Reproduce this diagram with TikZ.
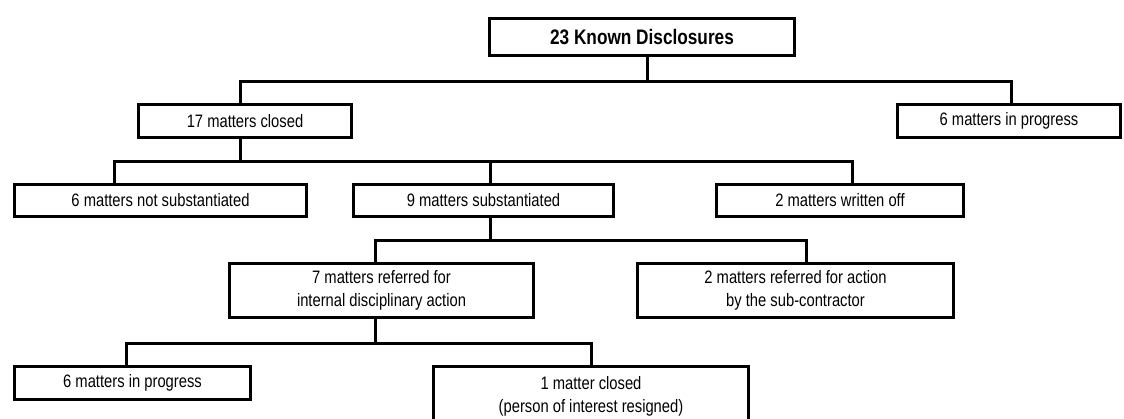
\documentclass[tikz,border=0pt]{standalone}
\usepackage{fontspec}
\setmainfont[FakeStretch=0.82]{Liberation Sans}
\usetikzlibrary{positioning}

\begin{document}
\begin{tikzpicture}[x=1pt,y=-1pt,line width=3pt]
  \useasboundingbox (0,0) rectangle (1124,418);
  \clip (0,0) rectangle (1124,418);
  \begin{scope}[every node/.style={draw,line width=3pt,inner sep=0pt,align=center,font=\fontsize{18}{23}\selectfont}]
    \node (known) [minimum width=305pt,minimum height=37pt,font=\bfseries\fontsize{21}{25}\selectfont] at (642, 37) {23 Known Disclosures};
    \node (closed) [minimum width=213pt,minimum height=33pt] at (245, 121) {17 matters closed};
    \node (progress) [minimum width=223pt,minimum height=33pt] at (1009, 121) {6 matters in progress};
    \node (notsub) [minimum width=292pt,minimum height=32pt] at (160.5, 200.5) {6 matters not substantiated};
    \node (subst) [minimum width=260pt,minimum height=32pt] at (483.5, 200.5) {9 matters substantiated};
    \node (written) [minimum width=247pt,minimum height=32pt] at (840, 200.5) {2 matters written off};
    \node (internal) [minimum width=304pt,minimum height=54pt] at (381.5, 290.5) {7 matters referred for\\ internal disciplinary action};
    \node (subcon) [minimum width=316pt,minimum height=54pt] at (795.5, 290.5) {2 matters referred for action\\ by the sub-contractor};
    \node (pending) [minimum width=236pt,minimum height=33pt] at (132.5, 383) {6 matters in progress};
    \node (resigned) [minimum width=315pt,minimum height=59pt] at (591, 396) {1 matter closed\\ (person of interest resigned)};
  \end{scope}
  \draw ([xshift=5pt]known.south) -- ++(0,24.5) -| ([xshift=-5pt]closed.north);
  \draw ([xshift=5pt]known.south) -- ++(0,24.5) -| ([xshift=2pt]progress.north);
  \draw ([xshift=-5pt]closed.south) -- ++(0,22.5) -| ([xshift=-46.5pt]notsub.north);
  \draw ([xshift=-5pt]closed.south) -- ++(0,22.5) -| ([xshift=6.5pt]subst.north);
  \draw ([xshift=-5pt]closed.south) -- ++(0,22.5) -| ([xshift=12pt]written.north);
  \draw ([xshift=6.5pt]subst.south) -- ++(0,22.5) -| ([xshift=-6.5pt]internal.north);
  \draw ([xshift=6.5pt]subst.south) -- ++(0,22.5) -| ([xshift=10.5pt]subcon.north);
  \draw ([xshift=-6pt]internal.south) -- ++(0,24.5) -| ([xshift=-6.5pt]pending.north);
  \draw ([xshift=-6pt]internal.south) -- ++(0,24.5) -| (resigned.north);
\end{tikzpicture}
\end{document}
